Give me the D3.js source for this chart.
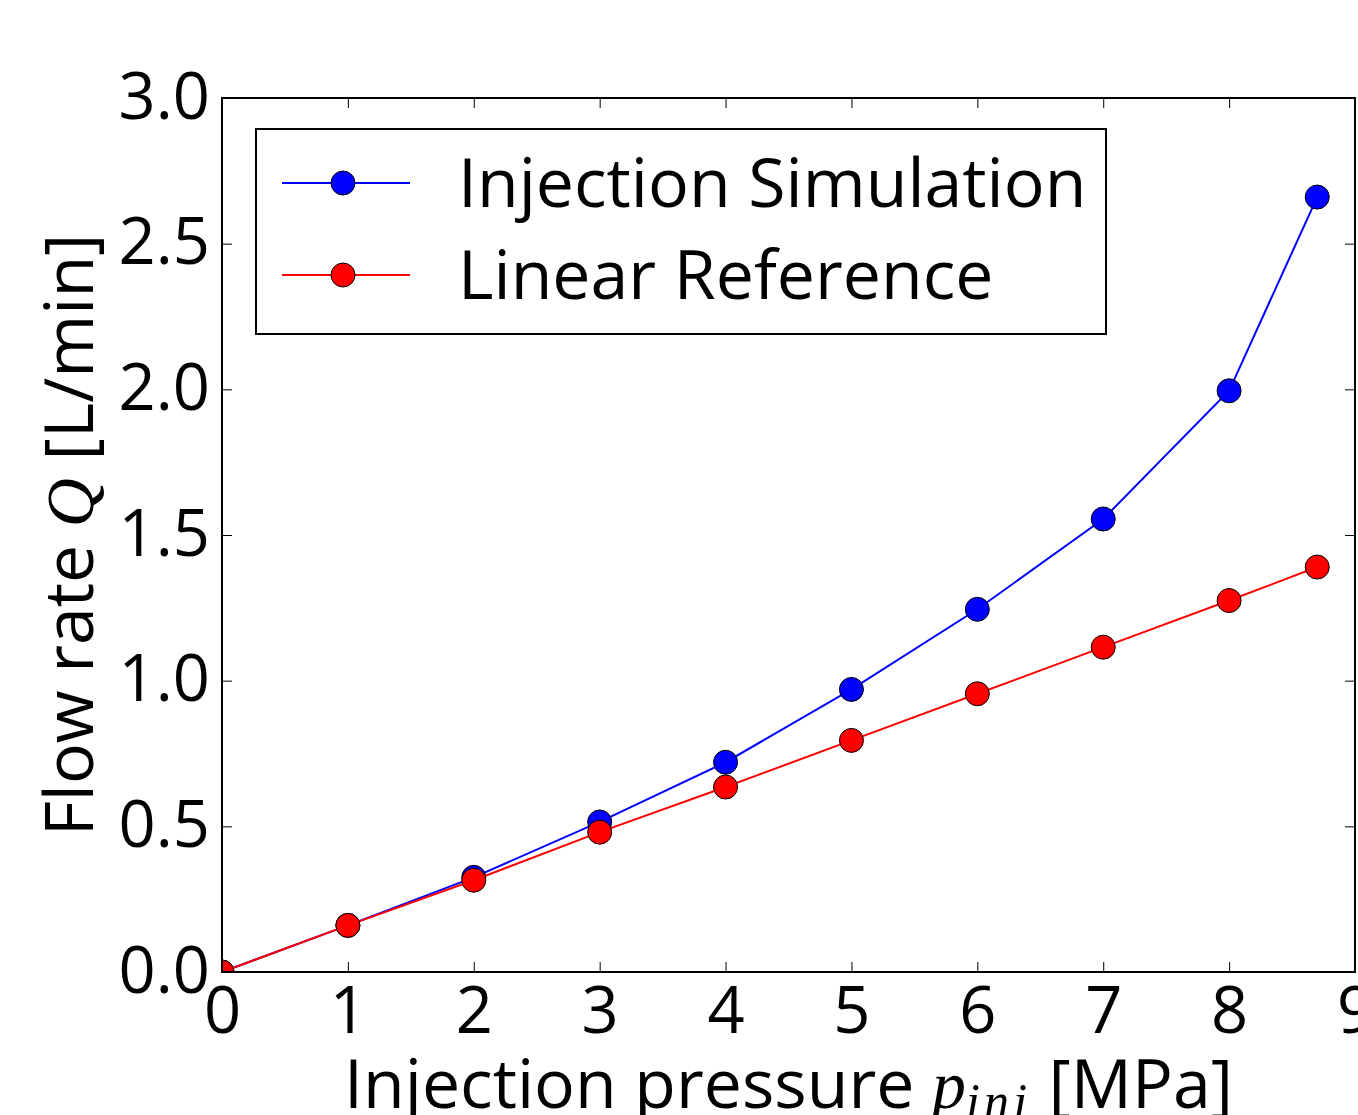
<!DOCTYPE html>
<html>
<head>
<meta charset="utf-8">
<script src="https://cdn.jsdelivr.net/npm/d3@7"></script>
<style>
  body { margin: 0; background: #fff; }
  svg { display: block; }
  text { font-family: "Open Sans", sans-serif; fill: #000; }
</style>
</head>
<body>
<svg id="chart" width="1358" height="1115"></svg>
<script>
// Data
const pressure = [0, 1, 2, 3, 4, 5, 6, 7, 8, 8.7];
const simulation = [0.0, 0.16, 0.325, 0.515, 0.72, 0.97, 1.245, 1.555, 1.995, 2.66];
const linearRef = [0.0, 0.16, 0.315, 0.48, 0.635, 0.795, 0.955, 1.115, 1.275, 1.39];
const xTicks = [0, 1, 2, 3, 4, 5, 6, 7, 8, 9];
const yTicks = [0.0, 0.5, 1.0, 1.5, 2.0, 2.5, 3.0];
const seriesNames = ["Injection Simulation", "Linear Reference"];
const seriesColors = ["#0000ff", "#ff0000"];

const svg = d3.select("#chart");
const pL = 222, pR = 1355, pT = 98, pB = 972;

const x = d3.scaleLinear().domain([0, 9]).range([pL, pR]);
const y = d3.scaleLinear().domain([0, 3]).range([pB, pT]);

svg.append("defs").append("clipPath").attr("id", "plotclip")
  .append("rect").attr("x", pL).attr("y", pT)
  .attr("width", pR - pL).attr("height", pB - pT);

// Series
const series = [
  { name: seriesNames[0], color: seriesColors[0], values: simulation },
  { name: seriesNames[1], color: seriesColors[1], values: linearRef }
];

const line = d3.line().x((d, i) => x(pressure[i])).y(d => y(d));
const plot = svg.append("g").attr("clip-path", "url(#plotclip)");

series.forEach(s => {
  plot.append("path").datum(s.values)
    .attr("d", line)
    .attr("fill", "none")
    .attr("stroke", s.color)
    .attr("stroke-width", 2);
  plot.selectAll(null).data(s.values).enter().append("circle")
    .attr("cx", (d, i) => x(pressure[i]))
    .attr("cy", d => y(d))
    .attr("r", 12)
    .attr("fill", s.color)
    .attr("stroke", "#000")
    .attr("stroke-width", 1);
});

// Axes (ticks inside, classic matplotlib style)
const tickLen = 10;
const fmtY = d3.format(".1f");

const xAxisB = d3.axisBottom(x).tickValues(xTicks).tickSize(-tickLen).tickPadding(15).tickFormat(d3.format("d"));
const xAxisT = d3.axisTop(x).tickValues(xTicks).tickSize(-tickLen).tickFormat("");
const yAxisL = d3.axisLeft(y).tickValues(yTicks).tickSize(-tickLen).tickPadding(12).tickFormat(fmtY);
const yAxisR = d3.axisRight(y).tickValues(yTicks).tickSize(-tickLen).tickFormat("");

function styleAxis(g) {
  g.select(".domain").remove();
  g.selectAll(".tick line").attr("stroke", "#000").attr("stroke-width", 1);
  g.selectAll(".tick text").attr("font-size", 65).attr("font-family", "'Open Sans', sans-serif").attr("fill", "#000");
}

svg.append("g").attr("transform", `translate(0,${pB})`).call(xAxisB).call(styleAxis)
  .selectAll(".tick text").attr("dy", "0.71em");
svg.append("g").attr("transform", `translate(0,${pT})`).call(xAxisT).call(styleAxis);
svg.append("g").attr("transform", `translate(${pL},0)`).call(yAxisL).call(styleAxis)
  .selectAll(".tick text").attr("dy", "0.31em");
svg.append("g").attr("transform", `translate(${pR},0)`).call(yAxisR).call(styleAxis);

// Frame
svg.append("rect").attr("x", pL).attr("y", pT)
  .attr("width", pR - pL).attr("height", pB - pT)
  .attr("fill", "none").attr("stroke", "#000").attr("stroke-width", 2);

// Axis labels
const xl = svg.append("text")
  .attr("x", (pL + pR) / 2).attr("y", 1108)
  .attr("text-anchor", "middle").attr("font-size", 68);
xl.append("tspan").text("Injection pressure ");
xl.append("tspan").attr("font-family", "'Liberation Serif', serif").attr("font-style", "italic").text("p");
xl.append("tspan").attr("font-family", "'Liberation Serif', serif").attr("font-style", "italic")
  .attr("font-size", 50).attr("dy", 10).attr("letter-spacing", 4).text("inj");
xl.append("tspan").attr("dy", -10).text(" [MPa]");

const yl = svg.append("text")
  .attr("transform", `translate(93,${(pT + pB) / 2}) rotate(-90)`)
  .attr("text-anchor", "middle").attr("font-size", 68);
yl.append("tspan").text("Flow rate ");
yl.append("tspan").attr("font-family", "'Liberation Serif', serif").attr("font-style", "italic").text("Q");
yl.append("tspan").text(" [L/min]");

// Legend
const lg = svg.append("g");
lg.append("rect").attr("x", 256).attr("y", 129).attr("width", 850).attr("height", 205)
  .attr("fill", "#fff").attr("stroke", "#000").attr("stroke-width", 2);
series.forEach((s, i) => {
  const cy = 183 + i * 92;
  lg.append("line").attr("x1", 282).attr("x2", 410).attr("y1", cy).attr("y2", cy)
    .attr("stroke", s.color).attr("stroke-width", 2);
  lg.append("circle").attr("cx", 343).attr("cy", cy).attr("r", 12)
    .attr("fill", s.color).attr("stroke", "#000").attr("stroke-width", 1);
  lg.append("text").attr("x", 458).attr("y", cy).attr("dy", "0.36em")
    .attr("font-size", 68).text(s.name);
});
</script>
</body>
</html>
